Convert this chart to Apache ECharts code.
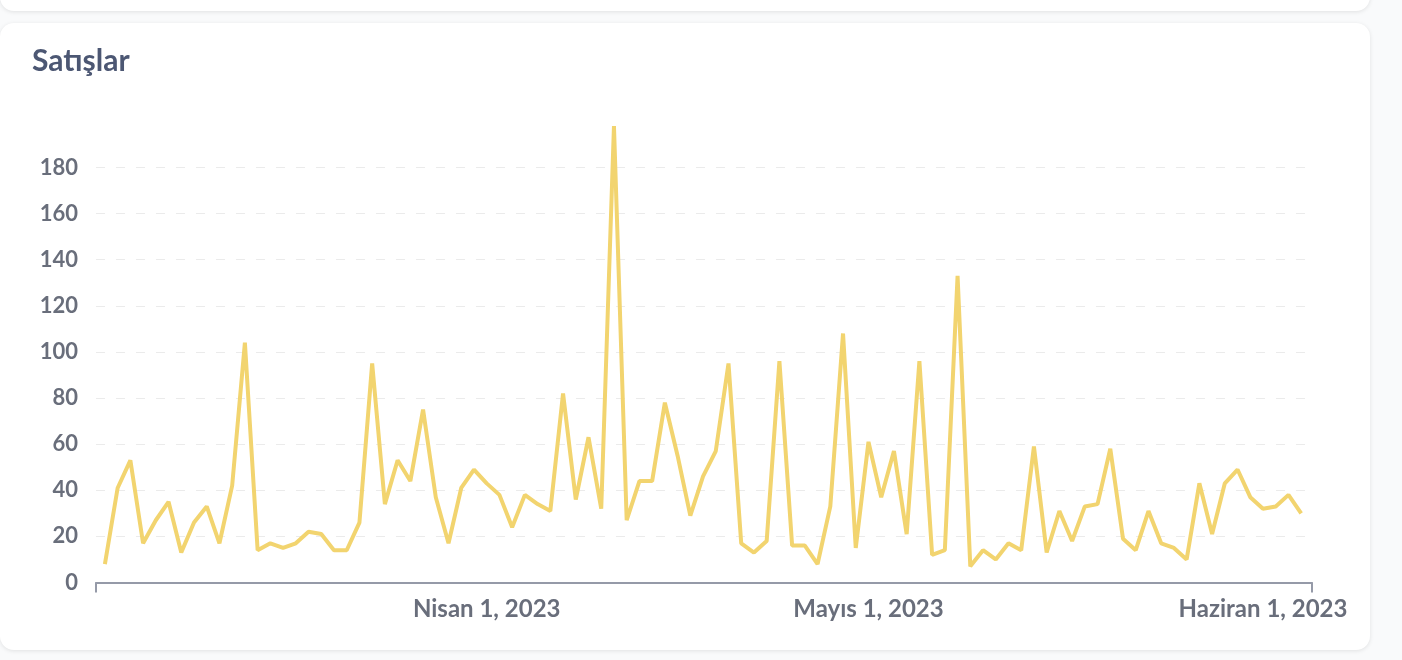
<!DOCTYPE html>
<html>
<head>
<meta charset="utf-8">
<script src="https://cdn.jsdelivr.net/npm/echarts@6/dist/echarts.min.js"></script>
<style>
  html, body { margin: 0; padding: 0; width: 1402px; height: 660px; background: #f9fafb; overflow: hidden; font-family: Lato, sans-serif; }
  .prev-card { position: absolute; left: 0; top: -30px; width: 1370px; height: 41px; background: #fff; border-radius: 0 0 14px 14px; box-shadow: 0 1px 4px rgba(0,0,0,0.10); }
  .card { position: absolute; left: 0; top: 23px; width: 1370px; height: 627px; background: #fff; border-radius: 14px; box-shadow: 0 1px 4px rgba(0,0,0,0.10); }
  #chart { position: absolute; left: 0; top: 0; width: 1402px; height: 660px; }
</style>
</head>
<body>
<div class="prev-card"></div>
<div class="card"></div>
<div id="chart"></div>
<script>
// Daily sales, one value per day starting 2023-03-02
const startDate = '2023-03-02';
const sales = [
  8, 41, 53, 17, 27, 35, 13, 26, 33, 17,
  42, 104, 14, 17, 15, 17, 22, 21, 14, 14,
  26, 95, 34, 53, 44, 75, 37, 17, 41, 49,
  43, 38, 24, 38, 34, 31, 82, 36, 63, 32,
  198, 27, 44, 44, 78, 55, 29, 46, 57, 95,
  17, 13, 18, 96, 16, 16, 8, 33, 108, 15,
  61, 37, 57, 21, 96, 12, 14, 133, 7, 14,
  10, 17, 14, 59, 13, 31, 18, 33, 34, 58,
  19, 14, 31, 17, 15, 10, 43, 21, 43, 49,
  37, 32, 33, 38, 30
];
const xTickDates = ['2023-04-01', '2023-05-01', '2023-06-01'];
const xTickLabels = ['Nisan 1, 2023', 'Mayıs 1, 2023', 'Haziran 1, 2023'];
const yTicks = [0, 20, 40, 60, 80, 100, 120, 140, 160, 180];
const title = 'Satışlar';

const DAY = 86400000;
const t0 = Date.parse(startDate + 'T00:00:00Z');
const dates = sales.map((_, i) => t0 + i * DAY);
const seriesData = sales.map((v, i) => [dates[i], v]);
const tickTimes = xTickDates.map(d => Date.parse(d + 'T00:00:00Z'));
const xMin = dates[0] - 0.7 * DAY;
const xMax = dates[dates.length - 1] + 0.85 * DAY;

const chart = echarts.init(document.getElementById('chart'), null, { renderer: 'canvas' });
chart.setOption({
  animation: false,
  backgroundColor: 'transparent',
  title: {
    text: title,
    left: 32,
    top: 46,
    padding: 0,
    textStyle: { fontFamily: 'Lato', fontWeight: 'bold', fontSize: 30, color: '#4c5773' }
  },
  grid: { left: 96, right: 90, top: 126, bottom: 77.5, containLabel: false },
  xAxis: {
    type: 'value',
    min: xMin,
    max: xMax,
    axisLine: { show: true, lineStyle: { color: '#959aa8', width: 2 } },
    axisTick: { show: true, customValues: [xMin, xMax], length: 10, lineStyle: { color: '#959aa8', width: 2 } },
    splitLine: { show: false },
    axisLabel: {
      customValues: tickTimes,
      margin: 15,
      fontFamily: 'Lato',
      fontWeight: 'bold',
      fontSize: 24,
      color: '#696e7b',
      formatter: function (v) {
        const i = tickTimes.indexOf(v);
        return i >= 0 ? xTickLabels[i] : '';
      }
    }
  },
  yAxis: {
    type: 'value',
    min: 0,
    max: 198,
    interval: 20,
    axisLine: { show: false },
    axisTick: { show: false },
    axisLabel: {
      showMaxLabel: false,
      margin: 18,
      fontFamily: 'Lato',
      fontWeight: 'bold',
      fontSize: 22,
      color: '#696e7b',
      formatter: function (v) { return yTicks.indexOf(v) >= 0 ? String(v) : ''; }
    },
    splitLine: {
      show: true,
      showMinLine: false,
      showMaxLine: false,
      lineStyle: { color: '#ebebeb', width: 1, type: [9, 11] }
    }
  },
  series: [{
    type: 'line',
    data: seriesData,
    showSymbol: false,
    symbol: 'none',
    smooth: false,
    lineStyle: { color: '#f2d46f', width: 4 },
    itemStyle: { color: '#f2d46f' }
  }]
});
</script>
</body>
</html>
